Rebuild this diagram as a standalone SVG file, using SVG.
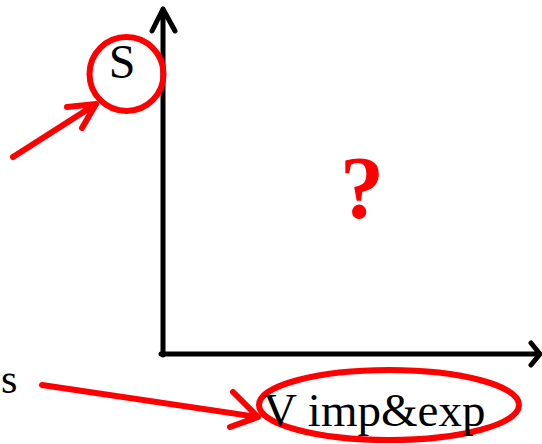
<svg xmlns="http://www.w3.org/2000/svg" width="542" height="444" viewBox="0 0 542 444">
<style>
.ax{stroke:#000;stroke-width:5;fill:none;stroke-linecap:round;stroke-linejoin:round}
.rd{stroke:#f00;stroke-width:6;fill:none;stroke-linecap:round;stroke-linejoin:round}
.t{font-family:"Liberation Serif",serif;fill:#000}
</style>
<rect width="542" height="444" fill="#fff"/>
<g id="connectors">
<path class="ax" d="M163 355 V9 M152 31 L163 9 L175 31"/>
<path class="ax" d="M161 354 H539 M531 343 L540 354 L531 365"/>
<path class="rd" d="M13 157 L96 104 M67 107 L96 104 L82 128"/>
<path class="rd" d="M42 385 L258 417 M233 392 L258 417 L230 427"/>
</g>
<g id="node-S">
<circle class="rd" cx="126.5" cy="74" r="37"/>
<text class="t" x="122" y="78" font-size="48" text-anchor="middle">S</text>
</g>
<g id="node-s">
<text class="t" x="1" y="393" font-size="42">s</text>
</g>
<g id="node-q">
<text x="362" y="217" font-family="Liberation Serif,serif" font-weight="bold" font-size="88" fill="#f00" text-anchor="middle">?</text>
</g>
<g id="node-V">
<ellipse class="rd" cx="389" cy="405" rx="130" ry="35"/>
<text class="t" x="263" y="426" font-size="47">V imp&amp;exp</text>
</g>
</svg>
